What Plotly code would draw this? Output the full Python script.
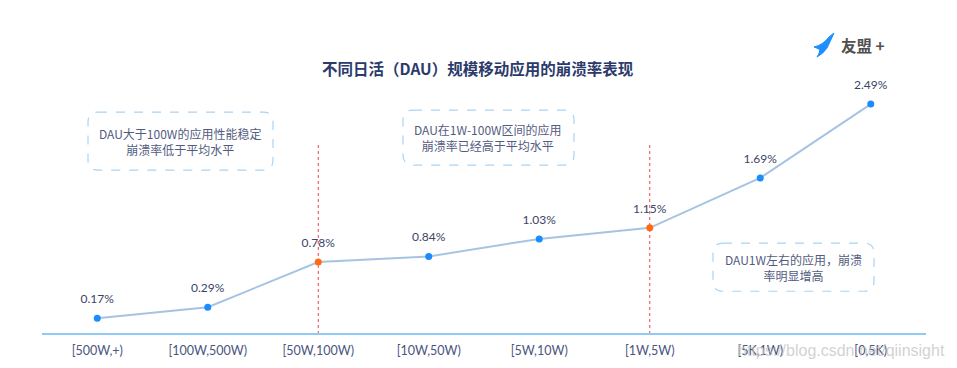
import plotly.graph_objects as go

categories = ["[500W,+)", "[100W,500W)", "[50W,100W)", "[10W,50W)", "[5W,10W)", "[1W,5W)", "[5K,1W)", "[0,5K)"]
crash_rate = [0.17, 0.29, 0.78, 0.84, 1.03, 1.15, 1.69, 2.49]
highlight = ["[50W,100W)", "[1W,5W)"]
notes = [
    "DAU大于100W的应用性能稳定<br>崩溃率低于平均水平",
    "DAU在1W-100W区间的应用<br>崩溃率已经高于平均水平",
    "DAU1W左右的应用，崩溃<br>率明显增高",
]
title = "不同日活（DAU）规模移动应用的崩溃率表现"

FONT = "Noto Sans CJK SC, Lato, sans-serif"
OFF = 8  # page body margin
W, H = 957, 368
ML, MT = 34, 49
PW, PH = 884, 276.7
MR = W - ML - PW
MB = H - MT - PH

marker_colors = ["#ff6a13" if c in highlight else "#1a8cff" for c in categories]
xs = list(range(len(categories)))

fig = go.Figure()
fig.add_trace(go.Scatter(
    x=xs, y=crash_rate,
    mode="lines+markers",
    line=dict(color="#a6c4e2", width=2),
    marker=dict(color=marker_colors, size=7),
    cliponaxis=False,
    hoverinfo="skip",
))
fig.add_trace(go.Scatter(
    x=xs, y=crash_rate,
    mode="markers+text",
    marker=dict(color="rgba(0,0,0,0)", size=18),
    text=[f"{v:.2f}%" for v in crash_rate],
    textposition="top center",
    textfont=dict(family="Lato, sans-serif", size=12, color="#3b4466"),
    cliponaxis=False,
    hoverinfo="skip",
))

shapes = []
for c in highlight:
    i = categories.index(c)
    shapes.append(dict(type="line", xref="x", yref="y", x0=i, x1=i, y0=0, y1=2.07,
                       line=dict(color="#f0474c", width=1, dash="dot"), layer="below"))

def px2paper(x, y):
    return (x - OFF - ML) / PW, 1 - (y - OFF - MT) / PH

def P(x, y):
    px, py = px2paper(x, y)
    return f"{px:.5f},{py:.5f}"

def rounded_rect(x0, y0, x1, y1, r=10):
    path = (f"M {P(x0+r,y0)} L {P(x1-r,y0)} Q {P(x1,y0)} {P(x1,y0+r)} "
            f"L {P(x1,y1-r)} Q {P(x1,y1)} {P(x1-r,y1)} "
            f"L {P(x0+r,y1)} Q {P(x0,y1)} {P(x0,y1-r)} "
            f"L {P(x0,y0+r)} Q {P(x0,y0)} {P(x0+r,y0)} Z")
    return dict(type="path", xref="paper", yref="paper", path=path,
                line=dict(color="#a9d3f5", width=1.2, dash="dash"), layer="below")

boxes = [(88, 112, 273, 170), (403, 110, 574, 165), (713, 243, 874, 291)]
for b in boxes:
    shapes.append(rounded_rect(*b))

logo = (f"M {P(814,47)} Q {P(823,45)} {P(829,37)} L {P(834,33)} "
        f"Q {P(830,42)} {P(827,48)} Q {P(823,54)} {P(817,57)} "
        f"Q {P(821,51)} {P(819,49)} Z")
shapes.append(dict(type="path", xref="paper", yref="paper", path=logo,
                   fillcolor="#1e8fff", line=dict(color="#1e8fff", width=1)))

annotations = []
wx, wy = px2paper(947, 350)
annotations.append(dict(xref="paper", yref="paper", x=wx, y=wy, text="https://blog.csdn.net/qiinsight",
                        showarrow=False, xanchor="right", yanchor="middle",
                        font=dict(family="Liberation Sans, sans-serif", size=16, color="rgba(195,195,195,0.75)")))
note_centers = [(180, 141), (488, 137), (793, 267)]
for txt, (cx, cy) in zip(notes, note_centers):
    px, py = px2paper(cx, cy)
    annotations.append(dict(xref="paper", yref="paper", x=px, y=py, text=txt,
                            showarrow=False, xanchor="center", yanchor="middle",
                            font=dict(family=FONT, size=12, color="#535c80")))
tx, ty = px2paper(478, 68)
annotations.append(dict(xref="paper", yref="paper", x=tx, y=ty, text=f"<b>{title}</b>",
                        showarrow=False, xanchor="center", yanchor="middle",
                        font=dict(family=FONT, size=15.5, color="#2b3a6b")))
lx, ly = px2paper(839, 45)
annotations.append(dict(xref="paper", yref="paper", x=lx, y=ly, text="<b>友盟 +</b>",
                        showarrow=False, xanchor="left", yanchor="middle",
                        font=dict(family=FONT, size=15.5, color="#505050")))

fig.update_layout(
    width=W, height=H,
    margin=dict(l=ML, r=MR, t=MT, b=MB),
    paper_bgcolor="white", plot_bgcolor="white",
    showlegend=False,
    shapes=shapes, annotations=annotations,
    xaxis=dict(tickmode="array", tickvals=xs, ticktext=categories,
               range=[-0.5, len(categories) - 0.5], showgrid=False, zeroline=False,
               showline=False, ticks="", ticklabelstandoff=7,
               tickfont=dict(family="Lato, sans-serif", size=12.5, color="#4a5580")),
    yaxis=dict(range=[0, 3.0], showgrid=False, zeroline=True, zerolinecolor="#8fcbf6",
               zerolinewidth=2, showticklabels=False, showline=False, ticks=""),
)

fig.write_html("out.html")
